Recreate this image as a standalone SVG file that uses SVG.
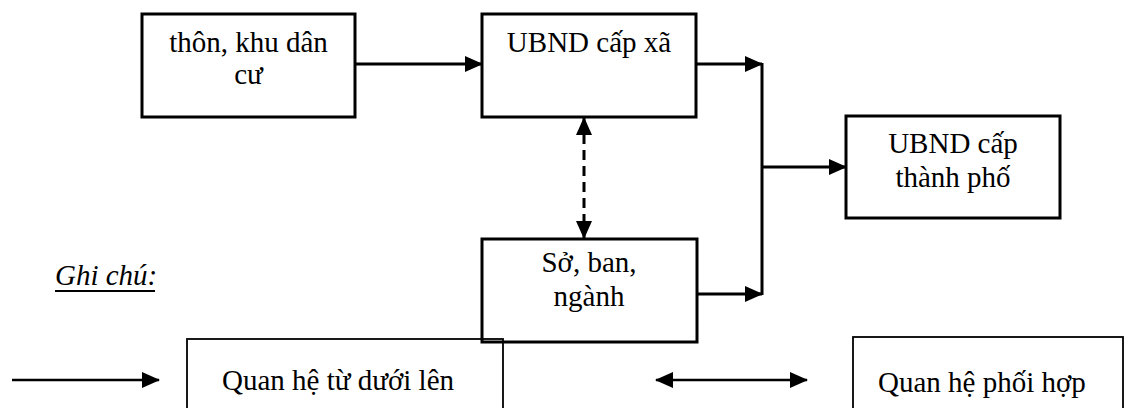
<svg xmlns="http://www.w3.org/2000/svg" width="1125" height="408" viewBox="0 0 1125 408">
<style>
.box{fill:none;stroke:#000;stroke-width:3}
.lbox{fill:none;stroke:#000;stroke-width:1.8}
.t{font-family:"Liberation Serif","Times New Roman","DejaVu Serif",serif;font-size:29px;fill:#000;text-anchor:middle}
.tl{font-family:"Liberation Serif","Times New Roman","DejaVu Serif",serif;font-size:29px;fill:#000}
.c{fill:none;stroke:#000;stroke-width:3}
.cl{fill:none;stroke:#000;stroke-width:2.5}
</style>
<defs>
<marker id="ah" markerUnits="userSpaceOnUse" markerWidth="18" markerHeight="16" refX="17" refY="8" orient="auto-start-reverse" viewBox="0 0 18 16">
<path d="M0,0 L18,8 L0,16 Z" fill="#000"/>
</marker>
</defs>
<rect width="1125" height="408" fill="#fff"/>
<g id="n-thon"><rect class="box" x="142" y="14" width="213" height="103"/>
<text class="t" x="248.5" y="52">thôn, khu dân</text><text class="t" x="248.5" y="84">cư</text></g>
<g id="n-xa"><rect class="box" x="482" y="14" width="214" height="103"/>
<text class="t" x="589" y="52">UBND cấp xã</text></g>
<g id="n-tp"><rect class="box" x="846" y="116" width="214" height="102"/>
<text class="t" x="953" y="153">UBND cấp</text><text class="t" x="953" y="187">thành phố</text></g>
<g id="n-so"><rect class="box" x="482" y="239" width="215" height="103"/>
<text class="t" x="589" y="272">Sở, ban,</text><text class="t" x="589" y="306">ngành</text></g>
<g id="connectors">
<line class="c" x1="355" y1="64" x2="482" y2="64" marker-end="url(#ah)"/>
<line class="c" x1="696" y1="64" x2="762" y2="64" marker-end="url(#ah)"/>
<line class="c" x1="697" y1="294" x2="762" y2="294" marker-end="url(#ah)"/>
<line class="c" x1="762" y1="63" x2="762" y2="295"/>
<line class="c" x1="762" y1="167" x2="846" y2="167" marker-end="url(#ah)"/>
<line class="c" x1="584" y1="118" x2="584" y2="238" stroke-dasharray="10,6" marker-start="url(#ah)" marker-end="url(#ah)"/>
</g>
<g id="legend">
<text class="tl" x="55" y="285" font-style="italic">Ghi chú:</text>
<line x1="55" y1="291" x2="155" y2="291" stroke="#000" stroke-width="2"/>
<line class="cl" x1="12" y1="380" x2="159" y2="380" marker-end="url(#ah)"/>
<rect class="lbox" x="187" y="339" width="316" height="80"/>
<text class="tl" x="222" y="390">Quan hệ từ dưới lên</text>
<line class="cl" x1="656" y1="380" x2="807" y2="380" marker-start="url(#ah)" marker-end="url(#ah)"/>
<rect class="lbox" x="853" y="337" width="270" height="80"/>
<text class="tl" x="878" y="392">Quan hệ phối hợp</text>
</g>
</svg>
